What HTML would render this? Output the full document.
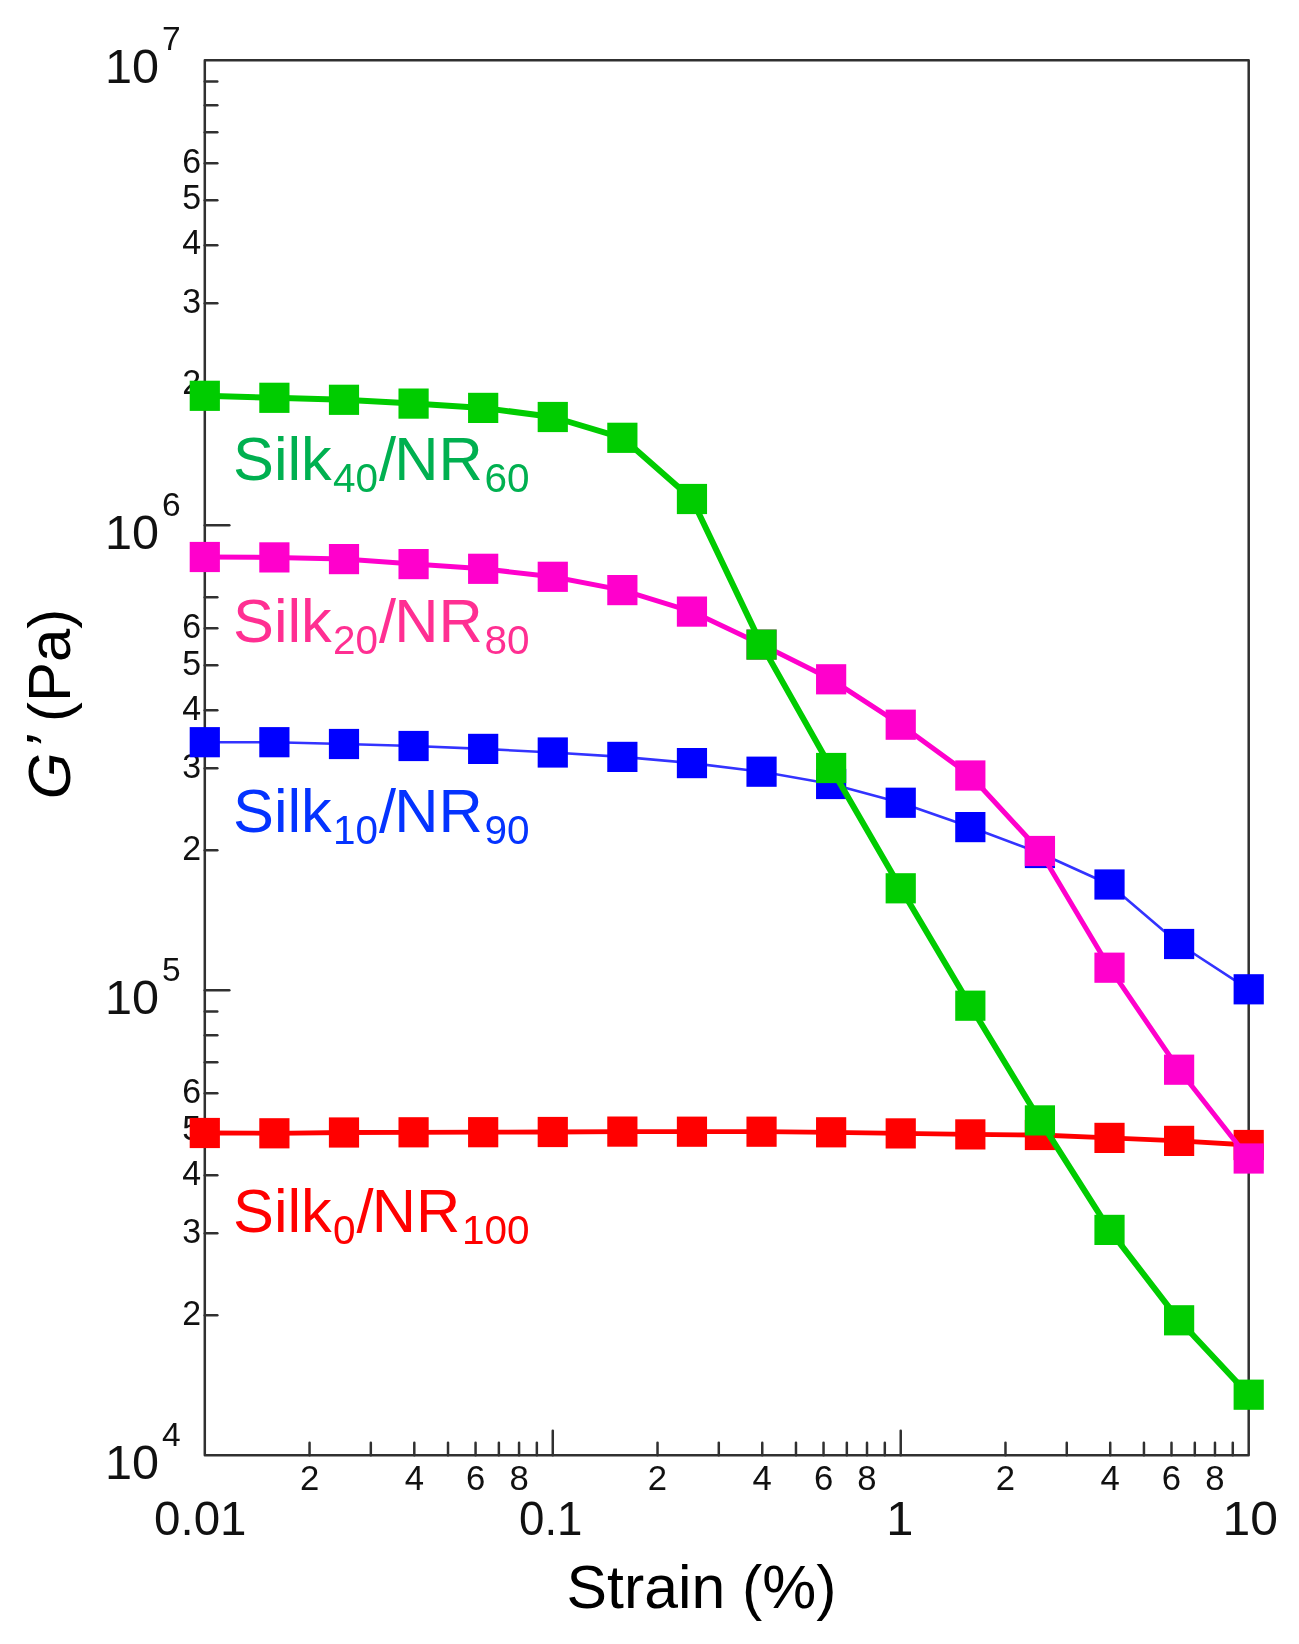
<!DOCTYPE html>
<html><head><meta charset="utf-8"><title>G' vs Strain</title>
<style>html,body{margin:0;padding:0;background:#fff;}svg{display:block;will-change:transform;filter:blur(0.45px);}</style>
</head><body>
<svg width="1299" height="1644" viewBox="0 0 1299 1644">
<rect width="1299" height="1644" fill="#fff"/>
<g stroke="#303030" stroke-width="2.5" fill="none" stroke-linecap="round" stroke-linejoin="round">
<rect x="204.8" y="60.2" width="1043.9" height="1395.0"/>
<line x1="204.8" y1="385.22" x2="217.3" y2="385.22"/>
<line x1="204.8" y1="303.34" x2="217.3" y2="303.34"/>
<line x1="204.8" y1="245.24" x2="217.3" y2="245.24"/>
<line x1="204.8" y1="200.18" x2="217.3" y2="200.18"/>
<line x1="204.8" y1="163.36" x2="217.3" y2="163.36"/>
<line x1="204.8" y1="132.23" x2="217.3" y2="132.23"/>
<line x1="204.8" y1="105.26" x2="217.3" y2="105.26"/>
<line x1="204.8" y1="81.48" x2="217.3" y2="81.48"/>
<line x1="204.8" y1="850.22" x2="217.3" y2="850.22"/>
<line x1="204.8" y1="768.34" x2="217.3" y2="768.34"/>
<line x1="204.8" y1="710.24" x2="217.3" y2="710.24"/>
<line x1="204.8" y1="665.18" x2="217.3" y2="665.18"/>
<line x1="204.8" y1="628.36" x2="217.3" y2="628.36"/>
<line x1="204.8" y1="597.23" x2="217.3" y2="597.23"/>
<line x1="204.8" y1="570.26" x2="217.3" y2="570.26"/>
<line x1="204.8" y1="546.48" x2="217.3" y2="546.48"/>
<line x1="204.8" y1="525.20" x2="229.3" y2="525.20"/>
<line x1="204.8" y1="1315.22" x2="217.3" y2="1315.22"/>
<line x1="204.8" y1="1233.34" x2="217.3" y2="1233.34"/>
<line x1="204.8" y1="1175.24" x2="217.3" y2="1175.24"/>
<line x1="204.8" y1="1130.18" x2="217.3" y2="1130.18"/>
<line x1="204.8" y1="1093.36" x2="217.3" y2="1093.36"/>
<line x1="204.8" y1="1062.23" x2="217.3" y2="1062.23"/>
<line x1="204.8" y1="1035.26" x2="217.3" y2="1035.26"/>
<line x1="204.8" y1="1011.48" x2="217.3" y2="1011.48"/>
<line x1="204.8" y1="990.20" x2="229.3" y2="990.20"/>
<line x1="309.55" y1="1455.2" x2="309.55" y2="1442.7"/>
<line x1="370.82" y1="1455.2" x2="370.82" y2="1442.7"/>
<line x1="414.30" y1="1455.2" x2="414.30" y2="1442.7"/>
<line x1="448.02" y1="1455.2" x2="448.02" y2="1442.7"/>
<line x1="475.57" y1="1455.2" x2="475.57" y2="1442.7"/>
<line x1="498.87" y1="1455.2" x2="498.87" y2="1442.7"/>
<line x1="519.05" y1="1455.2" x2="519.05" y2="1442.7"/>
<line x1="536.84" y1="1455.2" x2="536.84" y2="1442.7"/>
<line x1="657.52" y1="1455.2" x2="657.52" y2="1442.7"/>
<line x1="718.79" y1="1455.2" x2="718.79" y2="1442.7"/>
<line x1="762.26" y1="1455.2" x2="762.26" y2="1442.7"/>
<line x1="795.98" y1="1455.2" x2="795.98" y2="1442.7"/>
<line x1="823.54" y1="1455.2" x2="823.54" y2="1442.7"/>
<line x1="846.83" y1="1455.2" x2="846.83" y2="1442.7"/>
<line x1="867.01" y1="1455.2" x2="867.01" y2="1442.7"/>
<line x1="884.81" y1="1455.2" x2="884.81" y2="1442.7"/>
<line x1="552.77" y1="1455.2" x2="552.77" y2="1430.7"/>
<line x1="1005.48" y1="1455.2" x2="1005.48" y2="1442.7"/>
<line x1="1066.76" y1="1455.2" x2="1066.76" y2="1442.7"/>
<line x1="1110.23" y1="1455.2" x2="1110.23" y2="1442.7"/>
<line x1="1143.95" y1="1455.2" x2="1143.95" y2="1442.7"/>
<line x1="1171.50" y1="1455.2" x2="1171.50" y2="1442.7"/>
<line x1="1194.80" y1="1455.2" x2="1194.80" y2="1442.7"/>
<line x1="1214.98" y1="1455.2" x2="1214.98" y2="1442.7"/>
<line x1="1232.78" y1="1455.2" x2="1232.78" y2="1442.7"/>
<line x1="900.73" y1="1455.2" x2="900.73" y2="1430.7"/>
</g>
<g font-family="Liberation Sans, sans-serif" fill="#111">
<text transform="translate(201,394.42) scale(0.96,1)" font-size="35.3" text-anchor="end">2</text>
<text transform="translate(201,312.54) scale(0.96,1)" font-size="35.3" text-anchor="end">3</text>
<text transform="translate(201,254.44) scale(0.96,1)" font-size="35.3" text-anchor="end">4</text>
<text transform="translate(201,209.38) scale(0.96,1)" font-size="35.3" text-anchor="end">5</text>
<text transform="translate(201,172.56) scale(0.96,1)" font-size="35.3" text-anchor="end">6</text>
<text transform="translate(201,860.22) scale(0.96,1)" font-size="35.3" text-anchor="end">2</text>
<text transform="translate(201,778.34) scale(0.96,1)" font-size="35.3" text-anchor="end">3</text>
<text transform="translate(201,720.24) scale(0.96,1)" font-size="35.3" text-anchor="end">4</text>
<text transform="translate(201,675.18) scale(0.96,1)" font-size="35.3" text-anchor="end">5</text>
<text transform="translate(201,638.36) scale(0.96,1)" font-size="35.3" text-anchor="end">6</text>
<text transform="translate(201,1325.22) scale(0.96,1)" font-size="35.3" text-anchor="end">2</text>
<text transform="translate(201,1243.34) scale(0.96,1)" font-size="35.3" text-anchor="end">3</text>
<text transform="translate(201,1185.24) scale(0.96,1)" font-size="35.3" text-anchor="end">4</text>
<text transform="translate(201,1140.18) scale(0.96,1)" font-size="35.3" text-anchor="end">5</text>
<text transform="translate(201,1103.36) scale(0.96,1)" font-size="35.3" text-anchor="end">6</text>
<text x="159" y="82.80" font-size="48.6" text-anchor="end">10</text>
<text x="180.7" y="49.90" font-size="33.5" text-anchor="end">7</text>
<text x="159" y="548.80" font-size="48.6" text-anchor="end">10</text>
<text x="180.7" y="515.90" font-size="33.5" text-anchor="end">6</text>
<text x="159" y="1013.80" font-size="48.6" text-anchor="end">10</text>
<text x="180.7" y="980.90" font-size="33.5" text-anchor="end">5</text>
<text x="159" y="1478.80" font-size="48.6" text-anchor="end">10</text>
<text x="180.7" y="1445.90" font-size="33.5" text-anchor="end">4</text>
<text x="309.55" y="1490.3" font-size="34.7" text-anchor="middle">2</text>
<text x="414.30" y="1490.3" font-size="34.7" text-anchor="middle">4</text>
<text x="475.57" y="1490.3" font-size="34.7" text-anchor="middle">6</text>
<text x="519.05" y="1490.3" font-size="34.7" text-anchor="middle">8</text>
<text x="657.52" y="1490.3" font-size="34.7" text-anchor="middle">2</text>
<text x="762.26" y="1490.3" font-size="34.7" text-anchor="middle">4</text>
<text x="823.54" y="1490.3" font-size="34.7" text-anchor="middle">6</text>
<text x="867.01" y="1490.3" font-size="34.7" text-anchor="middle">8</text>
<text x="1005.48" y="1490.3" font-size="34.7" text-anchor="middle">2</text>
<text x="1110.23" y="1490.3" font-size="34.7" text-anchor="middle">4</text>
<text x="1171.50" y="1490.3" font-size="34.7" text-anchor="middle">6</text>
<text x="1214.98" y="1490.3" font-size="34.7" text-anchor="middle">8</text>
<text x="200.30" y="1534.6" font-size="48.8" text-anchor="middle" textLength="92.5" lengthAdjust="spacingAndGlyphs">0.01</text>
<text x="550.77" y="1534.6" font-size="48.8" text-anchor="middle" textLength="63.5" lengthAdjust="spacingAndGlyphs">0.1</text>
<text x="899.73" y="1534.6" font-size="48.8" text-anchor="middle">1</text>
<text x="1250.20" y="1534.6" font-size="48.8" text-anchor="middle" textLength="55.5" lengthAdjust="spacingAndGlyphs">10</text>
</g>
<text x="701.5" y="1607.8" font-size="60.7" font-family="Liberation Sans, sans-serif" fill="#000" text-anchor="middle">Strain (%)</text>
<text transform="translate(70.3,703) rotate(-90)" font-size="60" font-family="Liberation Sans, sans-serif" fill="#000" text-anchor="middle"><tspan font-style="italic" dx="-1">G</tspan><tspan dx="3" font-style="italic" font-size="63">’</tspan><tspan dx="-3"> (Pa)</tspan></text>
<polyline points="204.80,1133.00 274.39,1133.30 343.99,1132.50 413.58,1132.30 483.17,1132.20 552.77,1132.00 622.36,1131.60 691.95,1131.70 761.55,1131.70 831.14,1132.30 900.73,1133.40 970.33,1134.40 1039.92,1135.00 1109.51,1137.90 1179.11,1140.90 1248.70,1145.00" fill="none" stroke="#ff0000" stroke-width="4.8" stroke-linejoin="round"/>
<rect x="189.70" y="1117.90" width="30.2" height="30.2" fill="#ff0000"/>
<rect x="259.29" y="1118.20" width="30.2" height="30.2" fill="#ff0000"/>
<rect x="328.89" y="1117.40" width="30.2" height="30.2" fill="#ff0000"/>
<rect x="398.48" y="1117.20" width="30.2" height="30.2" fill="#ff0000"/>
<rect x="468.07" y="1117.10" width="30.2" height="30.2" fill="#ff0000"/>
<rect x="537.67" y="1116.90" width="30.2" height="30.2" fill="#ff0000"/>
<rect x="607.26" y="1116.50" width="30.2" height="30.2" fill="#ff0000"/>
<rect x="676.85" y="1116.60" width="30.2" height="30.2" fill="#ff0000"/>
<rect x="746.45" y="1116.60" width="30.2" height="30.2" fill="#ff0000"/>
<rect x="816.04" y="1117.20" width="30.2" height="30.2" fill="#ff0000"/>
<rect x="885.63" y="1118.30" width="30.2" height="30.2" fill="#ff0000"/>
<rect x="955.23" y="1119.30" width="30.2" height="30.2" fill="#ff0000"/>
<rect x="1024.82" y="1119.90" width="30.2" height="30.2" fill="#ff0000"/>
<rect x="1094.41" y="1122.80" width="30.2" height="30.2" fill="#ff0000"/>
<rect x="1164.01" y="1125.80" width="30.2" height="30.2" fill="#ff0000"/>
<rect x="1233.60" y="1129.90" width="30.2" height="30.2" fill="#ff0000"/>
<polyline points="204.80,742.20 274.39,742.20 343.99,744.00 413.58,746.00 483.17,748.90 552.77,752.50 622.36,756.90 691.95,763.10 761.55,771.70 831.14,784.00 900.73,802.75 970.33,827.10 1039.92,853.00 1109.51,884.50 1179.11,944.00 1248.70,989.30" fill="none" stroke="#3333ff" stroke-width="2.6" stroke-linejoin="round"/>
<rect x="189.70" y="727.10" width="30.2" height="30.2" fill="#0000ff"/>
<rect x="259.29" y="727.10" width="30.2" height="30.2" fill="#0000ff"/>
<rect x="328.89" y="728.90" width="30.2" height="30.2" fill="#0000ff"/>
<rect x="398.48" y="730.90" width="30.2" height="30.2" fill="#0000ff"/>
<rect x="468.07" y="733.80" width="30.2" height="30.2" fill="#0000ff"/>
<rect x="537.67" y="737.40" width="30.2" height="30.2" fill="#0000ff"/>
<rect x="607.26" y="741.80" width="30.2" height="30.2" fill="#0000ff"/>
<rect x="676.85" y="748.00" width="30.2" height="30.2" fill="#0000ff"/>
<rect x="746.45" y="756.60" width="30.2" height="30.2" fill="#0000ff"/>
<rect x="816.04" y="768.90" width="30.2" height="30.2" fill="#0000ff"/>
<rect x="885.63" y="787.65" width="30.2" height="30.2" fill="#0000ff"/>
<rect x="955.23" y="812.00" width="30.2" height="30.2" fill="#0000ff"/>
<rect x="1024.82" y="837.90" width="30.2" height="30.2" fill="#0000ff"/>
<rect x="1094.41" y="869.40" width="30.2" height="30.2" fill="#0000ff"/>
<rect x="1164.01" y="928.90" width="30.2" height="30.2" fill="#0000ff"/>
<rect x="1233.60" y="974.20" width="30.2" height="30.2" fill="#0000ff"/>
<polyline points="204.80,557.00 274.39,557.40 343.99,559.10 413.58,564.10 483.17,568.80 552.77,576.80 622.36,590.10 691.95,611.60 761.55,644.60 831.14,679.30 900.73,724.70 970.33,775.50 1039.92,851.00 1109.51,967.70 1179.11,1069.70 1248.70,1158.50" fill="none" stroke="#ff00cc" stroke-width="5" stroke-linejoin="round"/>
<rect x="189.70" y="541.90" width="30.2" height="30.2" fill="#ff00cc"/>
<rect x="259.29" y="542.30" width="30.2" height="30.2" fill="#ff00cc"/>
<rect x="328.89" y="544.00" width="30.2" height="30.2" fill="#ff00cc"/>
<rect x="398.48" y="549.00" width="30.2" height="30.2" fill="#ff00cc"/>
<rect x="468.07" y="553.70" width="30.2" height="30.2" fill="#ff00cc"/>
<rect x="537.67" y="561.70" width="30.2" height="30.2" fill="#ff00cc"/>
<rect x="607.26" y="575.00" width="30.2" height="30.2" fill="#ff00cc"/>
<rect x="676.85" y="596.50" width="30.2" height="30.2" fill="#ff00cc"/>
<rect x="746.45" y="629.50" width="30.2" height="30.2" fill="#ff00cc"/>
<rect x="816.04" y="664.20" width="30.2" height="30.2" fill="#ff00cc"/>
<rect x="885.63" y="709.60" width="30.2" height="30.2" fill="#ff00cc"/>
<rect x="955.23" y="760.40" width="30.2" height="30.2" fill="#ff00cc"/>
<rect x="1024.82" y="835.90" width="30.2" height="30.2" fill="#ff00cc"/>
<rect x="1094.41" y="952.60" width="30.2" height="30.2" fill="#ff00cc"/>
<rect x="1164.01" y="1054.60" width="30.2" height="30.2" fill="#ff00cc"/>
<rect x="1233.60" y="1143.40" width="30.2" height="30.2" fill="#ff00cc"/>
<polyline points="204.80,395.80 274.39,397.80 343.99,399.80 413.58,403.60 483.17,407.90 552.77,417.00 622.36,437.80 691.95,499.00 761.55,644.60 831.14,768.00 900.73,888.30 970.33,1005.70 1039.92,1120.40 1109.51,1229.90 1179.11,1320.30 1248.70,1394.70" fill="none" stroke="#00cc00" stroke-width="6" stroke-linejoin="round"/>
<rect x="189.70" y="380.70" width="30.2" height="30.2" fill="#00cc00"/>
<rect x="259.29" y="382.70" width="30.2" height="30.2" fill="#00cc00"/>
<rect x="328.89" y="384.70" width="30.2" height="30.2" fill="#00cc00"/>
<rect x="398.48" y="388.50" width="30.2" height="30.2" fill="#00cc00"/>
<rect x="468.07" y="392.80" width="30.2" height="30.2" fill="#00cc00"/>
<rect x="537.67" y="401.90" width="30.2" height="30.2" fill="#00cc00"/>
<rect x="607.26" y="422.70" width="30.2" height="30.2" fill="#00cc00"/>
<rect x="676.85" y="483.90" width="30.2" height="30.2" fill="#00cc00"/>
<rect x="746.45" y="629.50" width="30.2" height="30.2" fill="#00cc00"/>
<rect x="816.04" y="752.90" width="30.2" height="30.2" fill="#00cc00"/>
<rect x="885.63" y="873.20" width="30.2" height="30.2" fill="#00cc00"/>
<rect x="955.23" y="990.60" width="30.2" height="30.2" fill="#00cc00"/>
<rect x="1024.82" y="1105.30" width="30.2" height="30.2" fill="#00cc00"/>
<rect x="1094.41" y="1214.80" width="30.2" height="30.2" fill="#00cc00"/>
<rect x="1164.01" y="1305.20" width="30.2" height="30.2" fill="#00cc00"/>
<rect x="1233.60" y="1379.60" width="30.2" height="30.2" fill="#00cc00"/>
<text x="233" y="480.3" font-size="61.3" font-family="Liberation Sans, sans-serif" fill="#00b050">Silk<tspan font-size="40.5" dy="12" dx="1.2">40</tspan><tspan dy="-12" dx="0.9">/</tspan><tspan dx="-1.8">NR</tspan><tspan font-size="40.5" dy="12" dx="1.8">60</tspan></text>
<text x="233" y="641.8" font-size="61.3" font-family="Liberation Sans, sans-serif" fill="#ff2f92">Silk<tspan font-size="40.5" dy="12" dx="1.2">20</tspan><tspan dy="-12" dx="0.9">/</tspan><tspan dx="-1.8">NR</tspan><tspan font-size="40.5" dy="12" dx="1.8">80</tspan></text>
<text x="233" y="831.5" font-size="61.3" font-family="Liberation Sans, sans-serif" fill="#0433ff">Silk<tspan font-size="40.5" dy="12" dx="1.2">10</tspan><tspan dy="-12" dx="0.9">/</tspan><tspan dx="-1.8">NR</tspan><tspan font-size="40.5" dy="12" dx="1.8">90</tspan></text>
<text x="233" y="1232" font-size="61.3" font-family="Liberation Sans, sans-serif" fill="#ff0000">Silk<tspan font-size="40.5" dy="12" dx="1.2">0</tspan><tspan dy="-12" dx="0.9">/</tspan><tspan dx="-1.8">NR</tspan><tspan font-size="40.5" dy="12" dx="1.8">100</tspan></text>
</svg>
</body></html>
